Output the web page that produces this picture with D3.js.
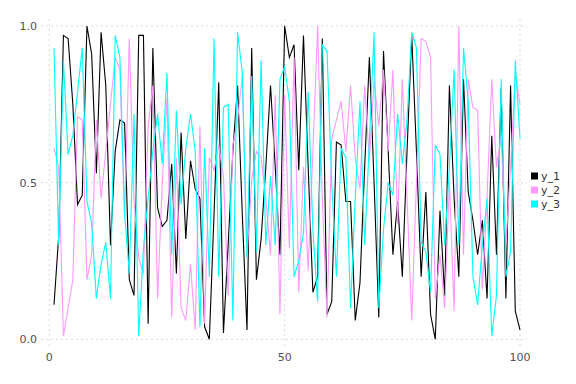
<!DOCTYPE html>
<html>
<head>
<meta charset="utf-8">
<script src="https://cdn.jsdelivr.net/npm/d3@7"></script>
<style>
  html, body { margin: 0; padding: 0; background: #ffffff; }
  svg { display: block; }
  text { font-family: "DejaVu Sans", sans-serif; }
</style>
</head>
<body>
<svg id="chart" width="576" height="384"></svg>
<script>
const seriesNames = ["y_1", "y_2", "y_3"];
const seriesColors = ["#000000", "#ff99ff", "#00ffff"];
const xTicks = [0, 50, 100];
const yTicks = [0.0, 0.5, 1.0];

const y1 = [0.11,0.33,0.97,0.96,0.75,0.43,0.46,1.0,0.91,0.53,
            0.98,0.81,0.30,0.6,0.70,0.69,0.19,0.14,0.97,0.97,
            0.05,0.93,0.42,0.36,0.38,0.56,0.21,0.66,0.32,0.57,
            0.48,0.45,0.04,0.0,0.4,0.82,0.02,0.3,0.6,0.81,
            0.4,0.03,0.93,0.19,0.32,0.55,0.81,0.55,0.27,1.0,
            0.90,0.94,0.54,0.97,0.55,0.15,0.2,0.96,0.08,0.12,
            0.63,0.62,0.44,0.44,0.06,0.18,0.55,0.9,0.5,0.07,
            0.92,0.6,0.27,0.44,0.2,0.6,0.97,0.6,0.2,0.47,
            0.08,0.0,0.41,0.14,0.81,0.45,0.2,0.83,0.47,0.38,
            0.27,0.38,0.13,0.65,0.27,0.8,0.13,0.81,0.09,0.03];

const y2 = [0.61,0.55,0.01,0.1,0.19,0.71,0.70,0.19,0.27,0.70,
            0.45,0.6,0.75,0.9,0.86,0.38,0.96,0.44,0.26,0.21,
            0.68,0.81,0.13,0.5,0.77,0.07,0.58,0.1,0.06,0.24,
            0.03,0.68,0.05,0.58,0.54,0.62,0.52,0.14,0.62,0.7,
            0.84,0.26,0.51,0.6,0.58,0.45,0.27,0.78,0.08,0.78,
            0.29,0.9,0.15,0.55,0.22,0.6,1.0,0.45,0.07,0.64,
            0.7,0.76,0.6,0.81,0.58,0.48,0.81,0.57,0.83,0.68,
            0.86,0.6,0.86,0.37,0.83,0.45,0.06,0.5,0.96,0.95,
            0.90,0.13,0.27,0.1,0.5,0.09,1.0,0.27,0.83,0.74,
            0.73,0.16,0.45,0.83,0.55,0.65,0.3,0.55,0.85,0.75];

const y3 = [0.93,0.30,0.89,0.59,0.65,0.79,0.93,0.44,0.37,0.13,
            0.24,0.31,0.13,0.97,0.90,0.40,0.21,0.72,0.01,0.29,
            0.45,0.6,0.72,0.56,0.85,0.27,0.73,0.43,0.61,0.72,
            0.6,0.04,0.61,0.2,0.96,0.2,0.74,0.75,0.06,0.98,
            0.85,0.26,0.84,0.28,0.89,0.30,0.52,0.30,0.83,0.87,
            0.76,0.2,0.25,0.34,0.79,0.35,0.12,0.94,0.92,0.5,
            0.2,0.61,0.58,0.10,0.45,0.76,0.30,0.63,0.98,0.1,
            0.35,0.5,0.46,0.72,0.56,0.7,0.98,0.93,0.31,0.28,
            0.15,0.62,0.59,0.3,0.55,0.86,0.3,0.93,0.76,0.2,
            0.11,0.3,0.45,0.01,0.14,0.83,0.2,0.28,0.89,0.64];

const seriesValues = [y1, y2, y3];

const svg = d3.select("#chart");
const W = 576, H = 384;

const x = d3.scaleLinear().domain([0, 100]).range([49.3, 520]);
const y = d3.scaleLinear().domain([0, 1]).range([339.3, 26]);

const plotLeft = 41, plotRight = 527, plotTop = 19, plotBottom = 346;

const grid = svg.append("g");
grid.selectAll("line.h").data(yTicks).join("line")
  .attr("x1", plotLeft).attr("x2", plotRight)
  .attr("y1", d => y(d)).attr("y2", d => y(d))
  .attr("stroke", "#d9d9e0").attr("stroke-width", 1)
  .attr("stroke-dasharray", "2,3");
grid.selectAll("line.v").data(xTicks).join("line")
  .attr("x1", d => x(d)).attr("x2", d => x(d))
  .attr("y1", plotTop).attr("y2", plotBottom)
  .attr("stroke", "#d9d9e0").attr("stroke-width", 1)
  .attr("stroke-dasharray", "2,3");

const labels = svg.append("g").attr("fill", "#555058").attr("font-size", 11);
labels.selectAll("text.y").data(yTicks).join("text")
  .attr("x", 37).attr("y", d => y(d)).attr("dy", "0.35em")
  .attr("text-anchor", "end")
  .text(d => d3.format(".1f")(d));
labels.selectAll("text.x").data(xTicks).join("text")
  .attr("x", d => x(d)).attr("y", 357).attr("dy", "0.35em")
  .attr("text-anchor", "middle")
  .text(d => d);

const line = d3.line().x((d, i) => x(i + 1)).y(d => y(d));
const lines = svg.append("g");
seriesValues.forEach((vals, k) => {
  lines.append("path")
    .datum(vals)
    .attr("fill", "none")
    .attr("stroke", seriesColors[k])
    .attr("stroke-width", 1.1)
    .attr("stroke-linejoin", "miter")
    .attr("d", line);
});

const legend = svg.append("g").attr("transform", "translate(531,172.5)");
seriesNames.forEach((name, k) => {
  const g = legend.append("g").attr("transform", `translate(0,${k * 14})`);
  g.append("rect").attr("width", 7).attr("height", 7).attr("fill", seriesColors[k]);
  g.append("text").attr("x", 10).attr("y", 3.5).attr("dy", "0.35em")
    .attr("font-size", 11).attr("fill", "#333333").text(name);
});
</script>
</body>
</html>
